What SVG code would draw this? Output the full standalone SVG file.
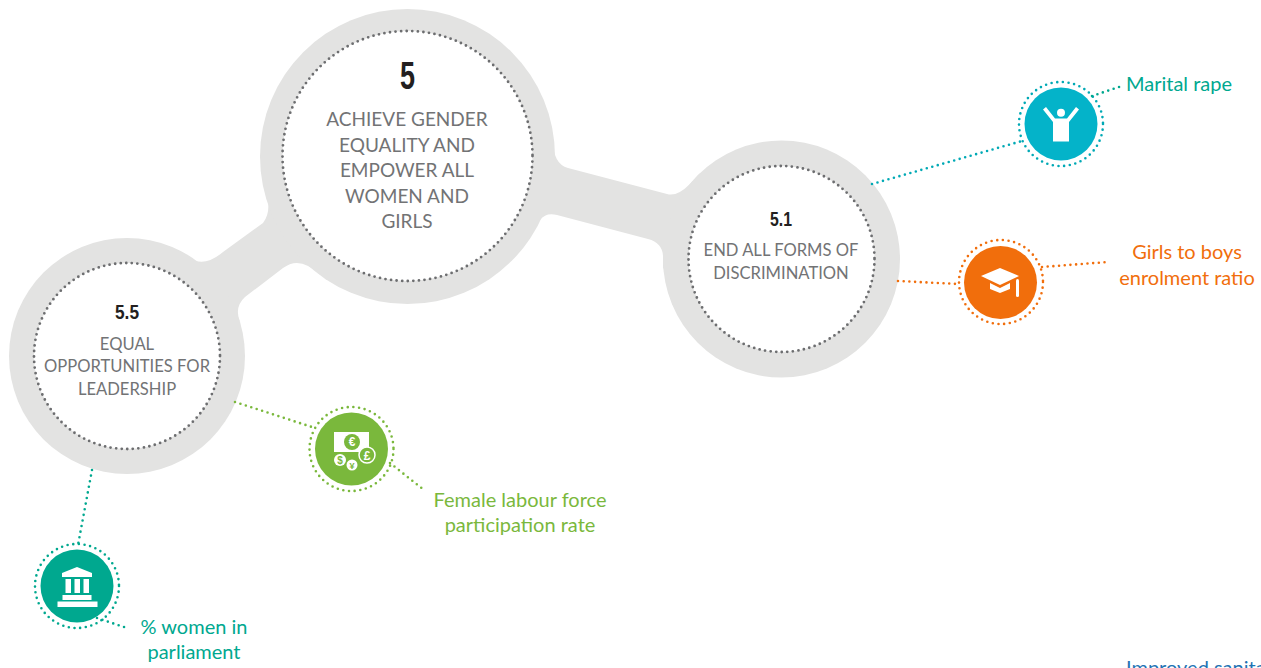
<svg xmlns="http://www.w3.org/2000/svg" width="1261" height="668" viewBox="0 0 1261 668">
<style>
text{font-family:"Lato","Noto Sans",sans-serif;text-anchor:middle}
.blob{fill:#e3e3e2}
.inner{fill:#fff;stroke:#6d6e70;stroke-width:2.8;stroke-linecap:round;stroke-dasharray:0 5.6}
.num{font-family:"Liberation Sans",sans-serif;fill:#231f20;font-weight:700}
.goal{fill:#727375;font-size:19px}
.sub{fill:#727375;font-size:16.600px}
.dot{fill:none;stroke-width:2.600;stroke-linecap:round;stroke-dasharray:0 5.700}
.ic{fill:#fff}
.lab{font-size:20px}
</style>
<g id="links">
<path class="blob" d="M190 258Q204 268 223 252L263 223Q272 212 266 190L320 275Q300 255 283 268L245 297Q234 307 240 322Z"/>
<path class="blob" d="M553 140Q553 164 568 168L667 194Q677 197 690 184L700 173L663 270L663 257Q663 243 648 239L557 215Q546 212 540 220L520 250Z"/>
</g>
<g id="goal-5">
<circle class="blob" cx="407.500" cy="156.500" r="147.500"/>
<circle class="inner" cx="407.500" cy="156" r="125"/>
<text class="num" x="407.500" y="89" font-size="38" textLength="15" lengthAdjust="spacingAndGlyphs">5</text>
<text class="goal" x="407" y="126">ACHIEVE GENDER</text>
<text class="goal" x="407" y="152">EQUALITY AND</text>
<text class="goal" x="407" y="177">EMPOWER ALL</text>
<text class="goal" x="407" y="203">WOMEN AND</text>
<text class="goal" x="407" y="228">GIRLS</text>
</g>
<g id="target-5-1">
<circle class="blob" cx="781.500" cy="259" r="118.500"/>
<circle class="inner" cx="781.500" cy="259" r="93"/>
<text class="num" x="781" y="226" font-size="21" textLength="22" lengthAdjust="spacingAndGlyphs">5.1</text>
<text class="sub" x="781" y="256">END ALL FORMS OF</text>
<text class="sub" x="781" y="279">DISCRIMINATION</text>
</g>
<g id="target-5-5">
<circle class="blob" cx="127" cy="356" r="118"/>
<circle class="inner" cx="127" cy="356" r="93"/>
<text class="num" x="127" y="319" font-size="21" textLength="24" lengthAdjust="spacingAndGlyphs">5.5</text>
<text class="sub" x="127" y="350">EQUAL</text>
<text class="sub" x="127" y="372">OPPORTUNITIES FOR</text>
<text class="sub" x="127" y="395">LEADERSHIP</text>
</g>
<g id="marital-rape">
<circle cx="1061" cy="124" r="42" class="dot" stroke="#00a9b5"/>
<circle cx="1061" cy="124" r="36.500" fill="#04b3c9"/>
<circle class="ic" cx="1061" cy="112.800" r="4"/>
<path class="ic" d="M1053 141.500V122L1043 109.500L1046 107L1055 118.500H1067L1076 107L1079 109.500L1069 122V141.500Z"/>
<text class="lab" x="1179" y="91" fill="#00a88f">Marital rape</text>
</g>
<g id="enrolment">
<circle cx="1001" cy="282" r="42" class="dot" stroke="#f16e0c"/>
<circle cx="1000.500" cy="282.500" r="36.500" fill="#f16e0c"/>
<path class="ic" d="M981 276L1000 268L1019 276L1000 285Z"/>
<path class="ic" d="M990 283L1000 288L1010 283V289L1000 293L990 289Z"/>
<rect class="ic" x="1016" y="279" width="3" height="18" rx="1.500"/>
<text class="lab" x="1187" y="259" fill="#f16e0c">Girls to boys</text>
<text class="lab" x="1187" y="285" fill="#f16e0c">enrolment ratio</text>
</g>
<g id="labour">
<circle cx="351.500" cy="449" r="42" class="dot" stroke="#7ab83c"/>
<circle cx="351.500" cy="449" r="36.500" fill="#7ab83c"/>
<rect class="ic" x="334" y="432" width="35" height="20"/>
<circle cx="352" cy="442" r="8" fill="#7ab83c"/>
<circle cx="367" cy="455" r="8" fill="#7ab83c" stroke="#fff" stroke-width="1.500"/>
<circle class="ic" cx="340" cy="460" r="6"/>
<circle class="ic" cx="352" cy="465" r="5.500"/>
<g font-weight="700" style="font-family:'Liberation Sans',sans-serif">
<text x="352" y="446" font-size="12" fill="#fff" style="font-family:'Liberation Sans',sans-serif">€</text>
<text x="367" y="459.500" font-size="12" fill="#fff" style="font-family:'Liberation Sans',sans-serif">£</text>
<text x="340" y="463.500" font-size="10" fill="#7ab83c" style="font-family:'Liberation Sans',sans-serif">$</text>
<text x="352" y="468.500" font-size="9" fill="#7ab83c" style="font-family:'Liberation Sans',sans-serif">¥</text>
</g>
<text class="lab" x="520" y="507" fill="#7ab83c">Female labour force</text>
<text class="lab" x="520" y="532" fill="#7ab83c">participation rate</text>
</g>
<g id="parliament">
<circle cx="77" cy="586" r="42" class="dot" stroke="#00a88f"/>
<circle cx="77" cy="586" r="36.500" fill="#00a88f"/>
<path class="ic" d="M62 577V573L77 567L92 573V577Z"/>
<rect class="ic" x="65.500" y="579" width="5.500" height="14"/>
<rect class="ic" x="74.500" y="579" width="5.500" height="14"/>
<rect class="ic" x="83.500" y="579" width="5.500" height="14"/>
<rect class="ic" x="62.500" y="595" width="29" height="5"/>
<rect class="ic" x="57.500" y="601.500" width="40" height="5.500"/>
<text class="lab" x="194" y="634" fill="#00a88f">% women in</text>
<text class="lab" x="194" y="659" fill="#00a88f">parliament</text>
</g>
<g id="connectors" class="dot">
<path d="M235 402L315 428" stroke="#7ab83c"/>
<path d="M390 463L424 490" stroke="#7ab83c"/>
<path d="M92 470L78 545" stroke="#00a88f"/>
<path d="M97 618L127 628" stroke="#00a88f"/>
<path d="M872 184L1022 141" stroke="#00a9b5"/>
<path d="M1092 96L1122 86" stroke="#00a88f"/>
<path d="M898 281L958 284" stroke="#f16e0c"/>
<path d="M1042 267L1108 262" stroke="#f16e0c"/>
</g>
<text id="improved" class="lab" x="1126" y="675" fill="#1f74b4" style="text-anchor:start">Improved sanita</text>
</svg>
